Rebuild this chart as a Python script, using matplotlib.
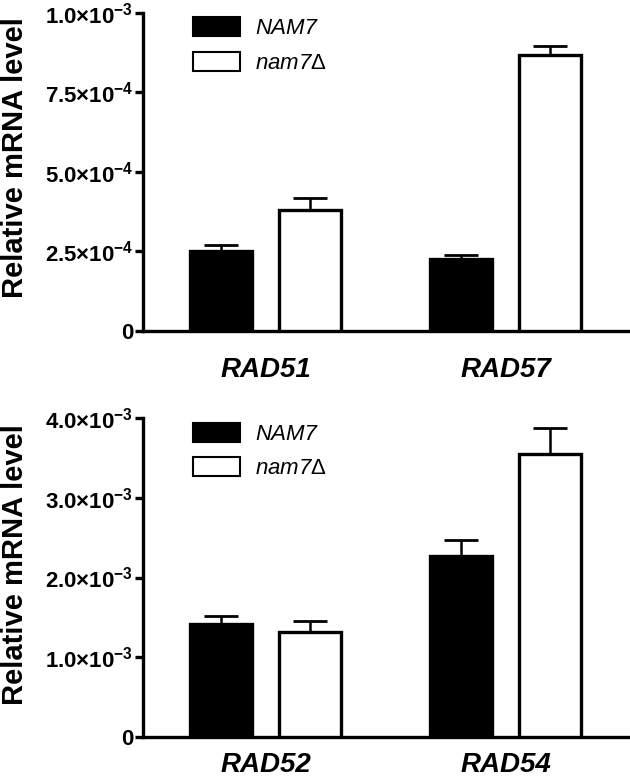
import numpy as np
import matplotlib
matplotlib.use('Agg')
import matplotlib.pyplot as plt
from matplotlib.patches import Patch

plt.rcParams['font.family'] = ['Liberation Sans', 'DejaVu Sans']
plt.rcParams['mathtext.fontset'] = 'custom'
plt.rcParams['mathtext.rm'] = 'Liberation Sans'
plt.rcParams['mathtext.bf'] = 'Liberation Sans:bold'
plt.rcParams['mathtext.it'] = 'Liberation Sans:italic'

# data
genes_top = ['RAD51', 'RAD57']
nam7_top = [2.52e-4, 2.27e-4]
nam7_top_err = [0.18e-4, 0.13e-4]
del_top = [3.81e-4, 8.69e-4]
del_top_err = [0.38e-4, 0.28e-4]
ticks_top = [0, 2.5e-4, 5.0e-4, 7.5e-4, 1.0e-3]
ticklabels_top = ['0', r'$\mathbf{2.5{\times}10^{-4}}$', r'$\mathbf{5.0{\times}10^{-4}}$',
                  r'$\mathbf{7.5{\times}10^{-4}}$', r'$\mathbf{1.0{\times}10^{-3}}$']

genes_bot = ['RAD52', 'RAD54']
nam7_bot = [1.42e-3, 2.27e-3]
nam7_bot_err = [0.10e-3, 0.20e-3]
del_bot = [1.32e-3, 3.55e-3]
del_bot_err = [0.14e-3, 0.32e-3]
ticks_bot = [0, 1.0e-3, 2.0e-3, 3.0e-3, 4.0e-3]
ticklabels_bot = ['0', r'$\mathbf{1.0{\times}10^{-3}}$', r'$\mathbf{2.0{\times}10^{-3}}$',
                  r'$\mathbf{3.0{\times}10^{-3}}$', r'$\mathbf{4.0{\times}10^{-3}}$']

fig = plt.figure(figsize=(6.3, 7.78), dpi=100)
ax1 = fig.add_axes([0.227, 0.5746, 0.77, 0.4087])
ax2 = fig.add_axes([0.227, 0.0527, 0.77, 0.41])

lw = 2.4
w = 0.26
off = 0.185


def panel(ax, genes, a, ae, b, be, ticks, labels, ymax, xpad, legtop, laby):
    x = np.arange(len(genes))
    ekw = dict(elinewidth=1.8, capthick=2.0, capsize=12, ecolor='black')
    ax.bar(x - off, a, w, color='black', edgecolor='black', linewidth=lw,
           yerr=[np.zeros(len(a)), ae], error_kw=ekw, zorder=3)
    ax.bar(x + off, b, w, color='white', edgecolor='black', linewidth=lw,
           yerr=[np.zeros(len(b)), be], error_kw=ekw, zorder=3)
    ax.set_xlim(-0.51, 1.51)
    ax.set_ylim(0, ymax)
    ax.set_yticks(ticks)
    ax.set_yticklabels(labels, fontsize=16, fontweight='bold')
    ax.set_xticks(x)
    ax.set_xticklabels(genes, fontsize=20, fontweight='bold', fontstyle='italic')
    ax.tick_params(axis='x', length=0, pad=xpad)
    ax.tick_params(axis='y', length=6, width=lw, pad=1)
    for s in ['top', 'right']:
        ax.spines[s].set_visible(False)
    for s in ['left', 'bottom']:
        ax.spines[s].set_linewidth(lw)
    ax.set_ylabel('Relative mRNA level', fontsize=21, fontweight='bold')
    ax.yaxis.set_label_coords(-0.236, laby)
    handles = [Patch(facecolor='black', edgecolor='black', linewidth=1.5),
               Patch(facecolor='white', edgecolor='black', linewidth=1.5)]
    ax.legend(handles, ['NAM7', r'nam7$\mathit{\Delta}$'], loc='upper left',
              bbox_to_anchor=(0.103, legtop), frameon=False, borderpad=0,
              borderaxespad=0, handlelength=2.1, handleheight=0.95,
              handletextpad=0.7, labelspacing=0.55,
              prop={'size': 16, 'style': 'italic'})


panel(ax1, genes_top, nam7_top, nam7_top_err, del_top, del_top_err,
      ticks_top, ticklabels_top, 1.0e-3, 19, 0.987, 0.545)
panel(ax2, genes_bot, nam7_bot, nam7_bot_err, del_bot, del_bot_err,
      ticks_bot, ticklabels_bot, 4.0e-3, 11, 0.985, 0.54)

fig.savefig('out.png', dpi=100)
